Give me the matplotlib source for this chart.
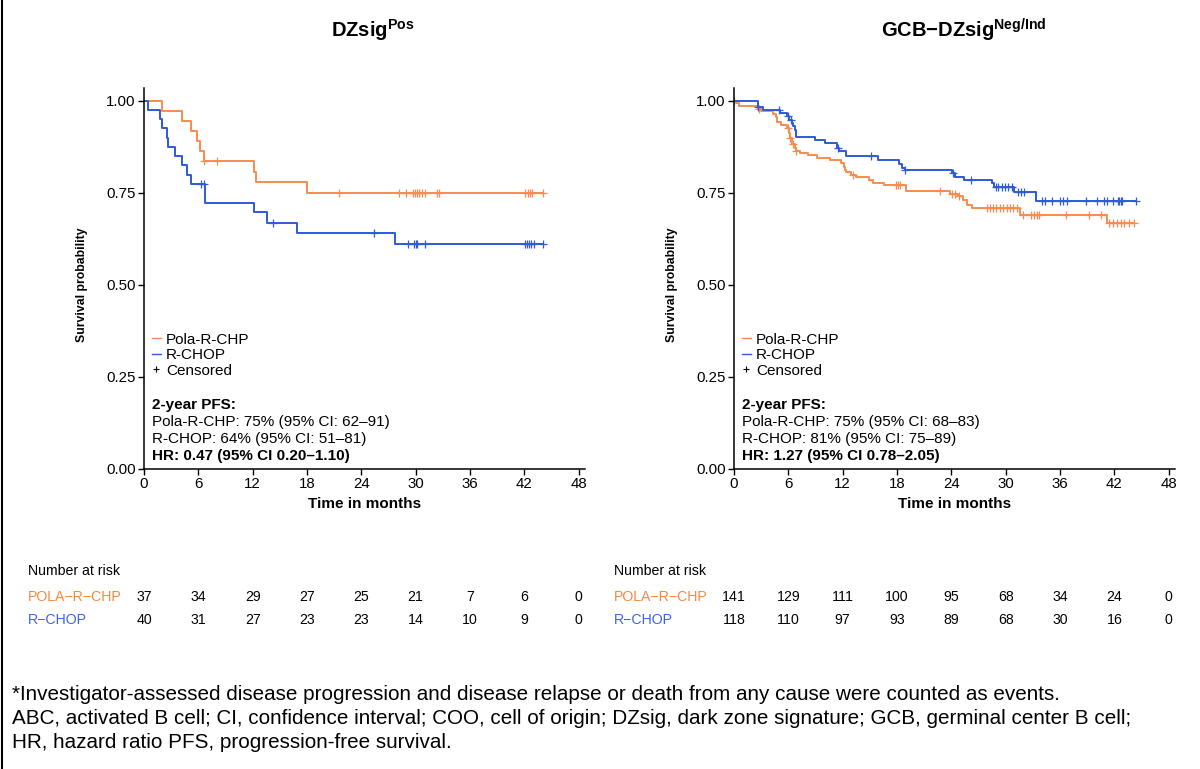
import numpy as np
import matplotlib.pyplot as plt
from matplotlib.lines import Line2D
from matplotlib import transforms

plt.rcParams['font.family'] = ['Liberation Sans', 'DejaVu Sans']
plt.rcParams['mathtext.fontset'] = 'custom'
plt.rcParams['mathtext.rm'] = 'Liberation Sans'
plt.rcParams['mathtext.bf'] = 'Liberation Sans:bold'

ORANGE = '#F98B4E'
BLUE = '#2F5AD8'

# ---- DZsig positive panel ----
dz_pola_times = [2.0, 4.2, 5.2, 5.9, 6.2, 6.6, 12.2, 12.4, 18.0]
dz_pola_surv = [0.973, 0.946, 0.919, 0.892, 0.865, 0.838, 0.808, 0.779, 0.751]
dz_pola_cens = [6.6, 8.1, 21.5, 28.2, 28.9, 29.7, 29.9, 30.1, 30.4, 30.7, 31.0,
                32.4, 32.6, 42.1, 42.4, 42.6, 42.9, 44.1]

dz_rchop_times = [0.4, 1.8, 2.0, 2.5, 2.6, 3.4, 4.2, 4.7, 5.2, 6.7, 12.2, 13.6, 16.9, 27.7]
dz_rchop_surv = [0.975, 0.950, 0.925, 0.900, 0.875, 0.850, 0.825, 0.800, 0.775,
                 0.722, 0.697, 0.669, 0.641, 0.611]
dz_rchop_cens = [6.3, 6.6, 14.3, 25.4, 29.1, 29.8, 30.0, 30.2, 31.0, 42.1, 42.3,
                 42.5, 42.7, 43.1, 44.1]

# ---- GCB-DZsig negative/indeterminate panel ----
gcb_pola_times = [0.2, 0.6, 2.6, 3.0, 4.3, 4.6, 4.7, 5.2, 5.9, 6.1, 6.2, 6.4, 6.7, 6.9,
                  7.3, 8.2, 9.2, 10.6, 11.8, 12.1, 12.3, 12.4, 12.9, 13.5, 14.9, 15.3,
                  16.6, 19.0, 23.8, 24.7, 25.3, 25.7, 26.3, 31.6, 41.2]
gcb_pola_surv = [0.993, 0.986, 0.979, 0.972, 0.964, 0.955, 0.943, 0.935, 0.927, 0.912,
                 0.898, 0.882, 0.873, 0.864, 0.858, 0.852, 0.846, 0.839, 0.830, 0.821,
                 0.812, 0.806, 0.800, 0.794, 0.785, 0.778, 0.771, 0.755, 0.748, 0.742,
                 0.730, 0.718, 0.708, 0.691, 0.668]
gcb_pola_cens = [0.05, 2.8, 6.0, 6.2, 6.5, 6.9, 13.1, 17.9, 18.1, 18.3, 22.7, 24.1,
                 24.4, 24.9, 27.9, 28.3, 28.6, 28.9, 29.4, 29.7, 30.1, 30.5, 30.8, 31.3,
                 31.9, 32.8, 33.1, 33.5, 33.7, 36.7, 39.2, 40.5, 41.4, 41.9, 42.3,
                 42.7, 43.1, 43.6, 44.2]

gcb_rchop_times = [2.6, 3.2, 5.1, 5.9, 6.1, 6.4, 6.5, 6.7, 6.8, 9.0, 10.0, 11.4, 11.6,
                   12.4, 15.9, 18.2, 18.6, 18.9, 24.1, 24.4, 25.4, 28.5, 28.7, 30.9, 33.4]
gcb_rchop_surv = [0.983, 0.975, 0.966, 0.958, 0.949, 0.941, 0.932, 0.920, 0.903, 0.894,
                  0.885, 0.873, 0.864, 0.851, 0.840, 0.829, 0.819, 0.812, 0.803, 0.794,
                  0.785, 0.776, 0.767, 0.753, 0.729]
gcb_rchop_cens = [2.6, 5.0, 6.0, 6.3, 11.5, 15.1, 18.9, 24.2, 26.2, 28.9, 29.2, 29.6,
                  29.9, 30.3, 30.7, 31.4, 31.7, 32.0, 34.0, 34.3, 35.1, 36.0, 36.3, 36.8,
                  38.9, 40.1, 40.9, 41.2, 41.8, 42.4, 42.5, 42.7, 42.9, 44.4]

risk_times = [0, 6, 12, 18, 24, 30, 36, 42, 48]
dz_risk_pola = [37, 34, 29, 27, 25, 21, 7, 6, 0]
dz_risk_rchop = [40, 31, 27, 23, 23, 14, 10, 9, 0]
gcb_risk_pola = [141, 129, 111, 100, 95, 68, 34, 24, 0]
gcb_risk_rchop = [118, 110, 97, 93, 89, 68, 30, 16, 0]

dz_stats = ['Pola-R-CHP: 75% (95% CI: 62\u201391)', 'R-CHOP: 64% (95% CI: 51\u201381)',
            'HR: 0.47 (95% CI 0.20\u20131.10)']
gcb_stats = ['Pola-R-CHP: 75% (95% CI: 68\u201383)', 'R-CHOP: 81% (95% CI: 75\u201389)',
             'HR: 1.27 (95% CI 0.78\u20132.05)']


def km_curve(ax, times, surv, cens, color):
    end = max(cens)
    t = np.array([0.0] + times + [end])
    s = np.array([1.0] + surv + [surv[-1]])
    ax.step(t, s, where='post', color=color, lw=1.4)
    idx = np.searchsorted(t, cens, side='right') - 1
    ax.plot(cens, s[idx], ls='none', marker='+', ms=5.5, mew=0.9, color=color)


def style_axes(ax, stats):
    ax.set_xlim(0, 48.7)
    ax.set_ylim(0, 1.035)
    ax.set_xticks(risk_times)
    ax.set_yticks([0, 0.25, 0.5, 0.75, 1.0])
    ax.set_yticklabels(['0.00', '0.25', '0.50', '0.75', '1.00'])
    ax.tick_params(labelsize=10.8, length=4, width=1, pad=2)
    for side in ['top', 'right']:
        ax.spines[side].set_visible(False)
    for side in ['left', 'bottom']:
        ax.spines[side].set_linewidth(1.1)
    ax.set_xlabel('Time in months', fontsize=11, fontweight='bold', labelpad=4)
    ax.set_ylabel('Survival probability', fontsize=8.8, fontweight='bold')
    ax.yaxis.set_label_coords(-0.128, 0.5 / 1.035)

    handles = [Line2D([], [], color=ORANGE, lw=1.0),
               Line2D([], [], color=BLUE, lw=1.0),
               Line2D([], [], color='black', ls='none', marker='+', ms=5, mew=0.8)]
    ax.legend(handles, ['Pola-R-CHP', 'R-CHOP', 'Censored'], loc='upper left',
              bbox_to_anchor=(0.0, 0.378), frameon=False, fontsize=11,
              handlelength=0.6, handletextpad=0.35, labelspacing=0.1,
              borderaxespad=0.3, borderpad=0.2)

    yax = ax.get_yaxis_transform()
    ax.text(0.018, 0.174, '2-year PFS:', fontsize=11, fontweight='bold',
            va='center', transform=yax)
    ax.text(0.018, 0.128, stats[0], fontsize=11, va='center', transform=yax)
    ax.text(0.018, 0.082, stats[1], fontsize=11, va='center', transform=yax)
    ax.text(0.018, 0.036, stats[2], fontsize=11, fontweight='bold', va='center',
            transform=yax)


def risk_table(fig, ax, label_x, pola, rchop):
    trans = transforms.blended_transform_factory(ax.transData, fig.transFigure)
    fig.text(label_x, 1 - 571 / 769, 'Number at risk', fontsize=10.2, va='center')
    fig.text(label_x, 1 - 597 / 769, 'POLA\u2212R\u2212CHP', fontsize=10.2,
             color='#F8893F', va='center')
    fig.text(label_x, 1 - 620 / 769, 'R\u2212CHOP', fontsize=10.2,
             color='#3A66E6', va='center')
    for t, a, b in zip(risk_times, pola, rchop):
        ax.text(t, 1 - 597 / 769, str(a), fontsize=10.2, ha='center', va='center',
                transform=trans, clip_on=False)
        ax.text(t, 1 - 620 / 769, str(b), fontsize=10.2, ha='center', va='center',
                transform=trans, clip_on=False)


fig = plt.figure(figsize=(12, 7.69), dpi=100)
ax1 = fig.add_axes([144 / 1200, 1 - 469 / 769, 441 / 1200, 381 / 769])
ax2 = fig.add_axes([734 / 1200, 1 - 469 / 769, 441 / 1200, 381 / 769])

km_curve(ax1, dz_pola_times, dz_pola_surv, dz_pola_cens, ORANGE)
km_curve(ax1, dz_rchop_times, dz_rchop_surv, dz_rchop_cens, BLUE)
km_curve(ax2, gcb_pola_times, gcb_pola_surv, gcb_pola_cens, ORANGE)
km_curve(ax2, gcb_rchop_times, gcb_rchop_surv, gcb_rchop_cens, BLUE)

style_axes(ax1, dz_stats)
style_axes(ax2, gcb_stats)

fig.text(373 / 1200, 1 - 30 / 769, r'$\mathbf{DZsig}^{\mathbf{Pos}}$',
         fontsize=14.5, ha='center', va='center')
fig.text(964 / 1200, 1 - 30 / 769, r'$\mathbf{GCB{-}DZsig}^{\mathbf{Neg/Ind}}$',
         fontsize=14.5, ha='center', va='center')

risk_table(fig, ax1, 28 / 1200, dz_risk_pola, dz_risk_rchop)
risk_table(fig, ax2, 614 / 1200, gcb_risk_pola, gcb_risk_rchop)

footnote = [
    '*Investigator-assessed disease progression and disease relapse or death from any cause were counted as events.',
    'ABC, activated B cell; CI, confidence interval; COO, cell of origin; DZsig, dark zone signature; GCB, germinal center B cell;',
    'HR, hazard ratio PFS, progression-free survival.',
]
for i, line in enumerate(footnote):
    fig.text(12 / 1200, 1 - (694 + 24 * i) / 769, line, fontsize=14.85, va='center')

# thin frame edge on the left side
fig.add_artist(Line2D([2 / 1200, 2 / 1200], [0, 1], color='black', lw=1.5,
                      transform=fig.transFigure))

fig.savefig('out.png', dpi=100)
